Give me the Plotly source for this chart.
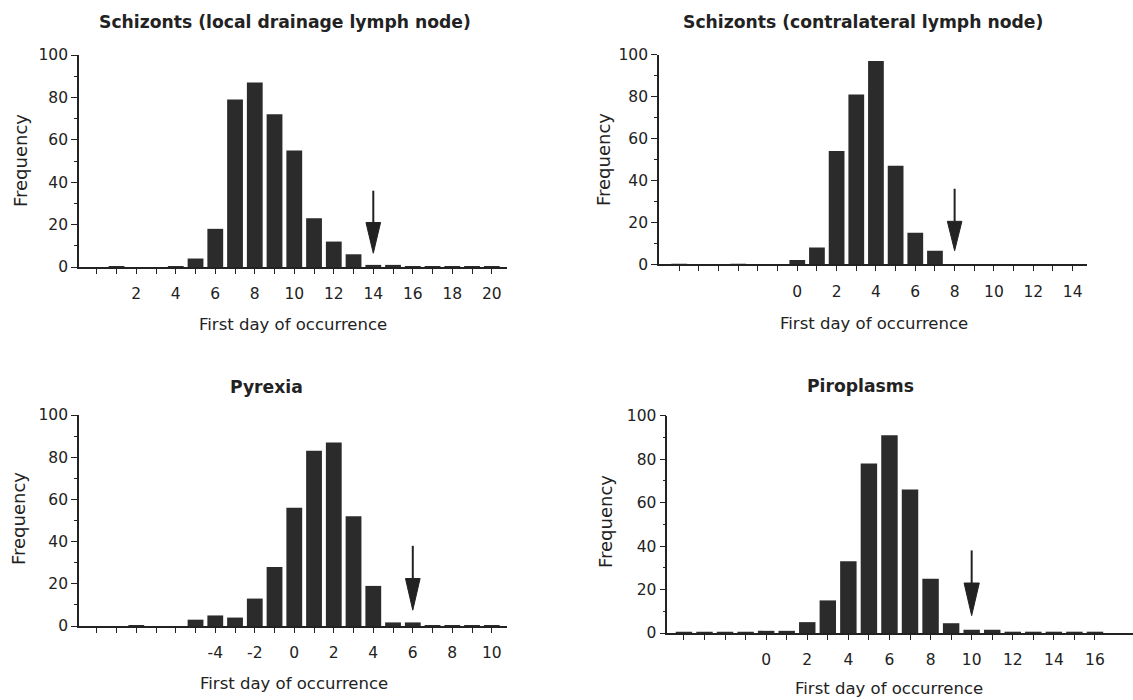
import plotly.graph_objects as go

# ---- data -------------------------------------------------------------
# Schizonts in the local drainage lymph node
days_local = list(range(0, 21))
freq_local = [0, 0.3, 0, 0, 0.2, 4, 18, 79, 87, 72, 55, 23, 12, 6, 1, 1, 0.2, 0.2, 0.2, 0.2, 0.2]

# Schizonts in the contralateral lymph node
days_contra = list(range(-6, 15))
freq_contra = [0.2, 0, 0, 0.2, 0, 0, 2, 8, 54, 81, 97, 47, 15, 6.5, 0, 0, 0, 0, 0, 0, 0]

# Pyrexia
days_pyrexia = list(range(-10, 11))
freq_pyrexia = [0, 0, 0.2, 0, 0, 3, 5, 4, 13, 28, 56, 83, 87, 52, 19, 1.7, 1.7, 0.2, 0.2, 0.2, 0.2]

# Piroplasms
days_piro = list(range(-4, 17))
freq_piro = [0.2, 0.2, 0.2, 0.2, 1, 1, 5, 15, 33, 78, 91, 66, 25, 4.5, 1.5, 1.5, 0.2, 0.2, 0.2, 0.2, 0.2]

# arrows: day, shaft top, head base, tip
arrow_day = [14, 8, 6, 10]
arrow_top = [36, 36, 38, 38]
arrow_head = [21, 20.5, 22.5, 23]
arrow_tip = [6.5, 6.5, 7.5, 8]

# tick labels shown on each x axis
labels_local = list(range(2, 21, 2))
labels_contra = list(range(0, 15, 2))
labels_pyrexia = list(range(-4, 11, 2))
labels_piro = list(range(0, 17, 2))

titles = ["Schizonts (local drainage lymph node)",
          "Schizonts (contralateral lymph node)",
          "Pyrexia",
          "Piroplasms"]

# ---- layout geometry (pixels) ----------------------------------------
W, H = 1133, 700
FONT = "DejaVu Sans"
INK = "#222222"
BAR = "#2b2b2b"


def fx(px):
    return px / W


def fy(py):
    return 1 - py / H


panels = [
    dict(days=days_local, freq=freq_local, labels=labels_local,
         xdom=(79, 507), ydom=(55, 267), xr=(-0.9, 20.77),
         title=(285, 22), xt=(293, 324), yt=(20, 161)),
    dict(days=days_contra, freq=freq_contra, labels=labels_contra,
         xdom=(659, 1087), ydom=(54.7, 264.3), xr=(-7.03, 14.73),
         title=(863, 22), xt=(874, 323), yt=(604, 160)),
    dict(days=days_pyrexia, freq=freq_pyrexia, labels=labels_pyrexia,
         xdom=(79, 507), ydom=(415, 626), xr=(-10.9, 10.77),
         title=(266, 387), xt=(294, 683), yt=(18, 519)),
    dict(days=days_piro, freq=freq_piro, labels=labels_piro,
         xdom=(667.3, 1133), ydom=(415.7, 633), xr=(-4.81, 17.85),
         title=(860, 386), xt=(889, 688), yt=(605, 522)),
]

fig = go.Figure()
annotations = []
layout_axes = {}

for i, p in enumerate(panels):
    n = "" if i == 0 else str(i + 1)
    xa, ya = "x" + n, "y" + n

    fig.add_trace(go.Bar(
        x=p["days"], y=p["freq"], xaxis=xa, yaxis=ya,
        marker=dict(color=BAR, line=dict(width=0)),
        width=0.8, showlegend=False, hoverinfo="x+y"))

    d = arrow_day[i]
    fig.add_trace(go.Scatter(
        x=[d, d], y=[arrow_top[i], arrow_head[i]], xaxis=xa, yaxis=ya,
        mode="lines", line=dict(color=INK, width=2),
        showlegend=False, hoverinfo="skip"))
    hw = 0.37
    fig.add_trace(go.Scatter(
        x=[d - hw, d + hw, d, d - hw],
        y=[arrow_head[i], arrow_head[i], arrow_tip[i], arrow_head[i]],
        xaxis=xa, yaxis=ya, mode="lines", fill="toself",
        fillcolor=INK, line=dict(color=INK, width=1),
        showlegend=False, hoverinfo="skip"))

    ticks = list(range(p["days"][0], p["days"][-1] + 1))
    text = [str(t) if t in p["labels"] else "" for t in ticks]

    layout_axes["xaxis" + n] = dict(
        domain=[fx(p["xdom"][0]), fx(p["xdom"][1])],
        anchor=ya, range=list(p["xr"]), automargin=False,
        tickvals=ticks, ticktext=text, ticks="outside", ticklen=5,
        tickwidth=1.3, tickcolor=INK, ticklabelstandoff=7,
        showline=True, linecolor=INK, linewidth=1.6,
        showgrid=False, zeroline=False,
        tickfont=dict(family=FONT, size=15.5, color=INK))
    layout_axes["yaxis" + n] = dict(
        domain=[fy(p["ydom"][1]), fy(p["ydom"][0])],
        anchor=xa, range=[0, 100], automargin=False,
        tickvals=[0, 20, 40, 60, 80, 100], ticks="outside", ticklen=6,
        tickwidth=1.3, tickcolor=INK,
        minor=dict(dtick=10, ticks="outside", ticklen=3, tickcolor=INK, tickwidth=1),
        showline=True, linecolor=INK, linewidth=1.6,
        showgrid=False, zeroline=False,
        tickfont=dict(family=FONT, size=15.5, color=INK))

    annotations.append(dict(
        text="<b>%s</b>" % titles[i], x=fx(p["title"][0]), y=fy(p["title"][1]),
        xref="paper", yref="paper", showarrow=False,
        xanchor="center", yanchor="middle",
        font=dict(family=FONT, size=17.2, color=INK)))
    annotations.append(dict(
        text="First day of occurrence", x=fx(p["xt"][0]), y=fy(p["xt"][1]),
        xref="paper", yref="paper", showarrow=False,
        xanchor="center", yanchor="middle",
        font=dict(family=FONT, size=16.5, color=INK)))
    annotations.append(dict(
        text="Frequency", x=fx(p["yt"][0]), y=fy(p["yt"][1]),
        xref="paper", yref="paper", showarrow=False, textangle=-90,
        xanchor="center", yanchor="middle",
        font=dict(family=FONT, size=18, color=INK)))

fig.update_layout(
    width=W, height=H,
    margin=dict(l=0, r=0, t=0, b=0, autoexpand=False),
    paper_bgcolor="white", plot_bgcolor="white",
    bargap=0.2, annotations=annotations,
    **layout_axes)

fig.write_html("out.html")
